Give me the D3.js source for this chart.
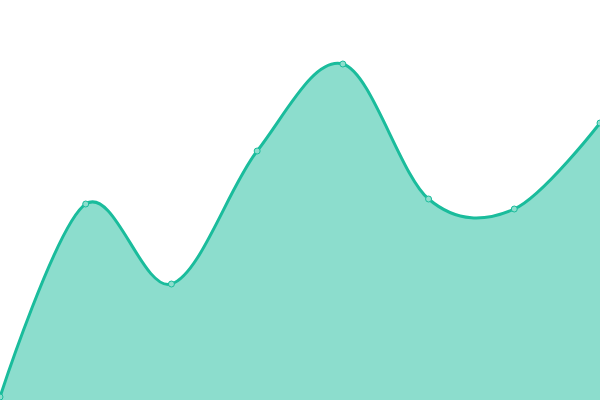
<!DOCTYPE html>
<html>
<head>
<meta charset="utf-8">
<script src="https://cdn.jsdelivr.net/npm/d3@7"></script>
<style>
  html, body { margin: 0; padding: 0; background: #fff; }
  svg { display: block; }
</style>
</head>
<body>
<svg id="drawing_region"></svg>
<script>
// data
const labels = [0, 1, 2, 3, 4, 5, 6, 7];
const values = [3, 196, 116, 249, 336, 201, 191, 277];

const width = 600, height = 400;
const lineColor = '#1abc9c';

const svg = d3.select('#drawing_region')
    .attr('width', width)
    .attr('height', height);

const xscale = d3.scaleLinear()
    .domain([0, labels.length - 1])
    .range([0, width]);

const yscale = d3.scaleLinear()
    .domain([0, 400])
    .range([height, 0]);

const data = labels.map((l, i) => ({x: l, y: values[i]}));

const area = d3.area()
    .x(d => xscale(d.x))
    .y0(yscale(0))
    .y1(d => yscale(d.y))
    .curve(d3.curveCardinal);

const line = d3.line()
    .x(d => xscale(d.x))
    .y(d => yscale(d.y))
    .curve(d3.curveCardinal);

svg.append('path')
    .datum(data)
    .attr('d', area)
    .attr('fill', lineColor)
    .attr('fill-opacity', 0.5);

svg.append('path')
    .datum(data)
    .attr('d', line)
    .attr('fill', 'none')
    .attr('stroke', lineColor)
    .attr('stroke-width', 3);

svg.selectAll('circle')
    .data(data)
    .enter()
    .append('circle')
    .attr('cx', d => xscale(d.x))
    .attr('cy', d => yscale(d.y))
    .attr('r', 3)
    .attr('fill', '#8ddecd')
    .attr('stroke', lineColor)
    .attr('stroke-width', 1);
</script>
</body>
</html>
